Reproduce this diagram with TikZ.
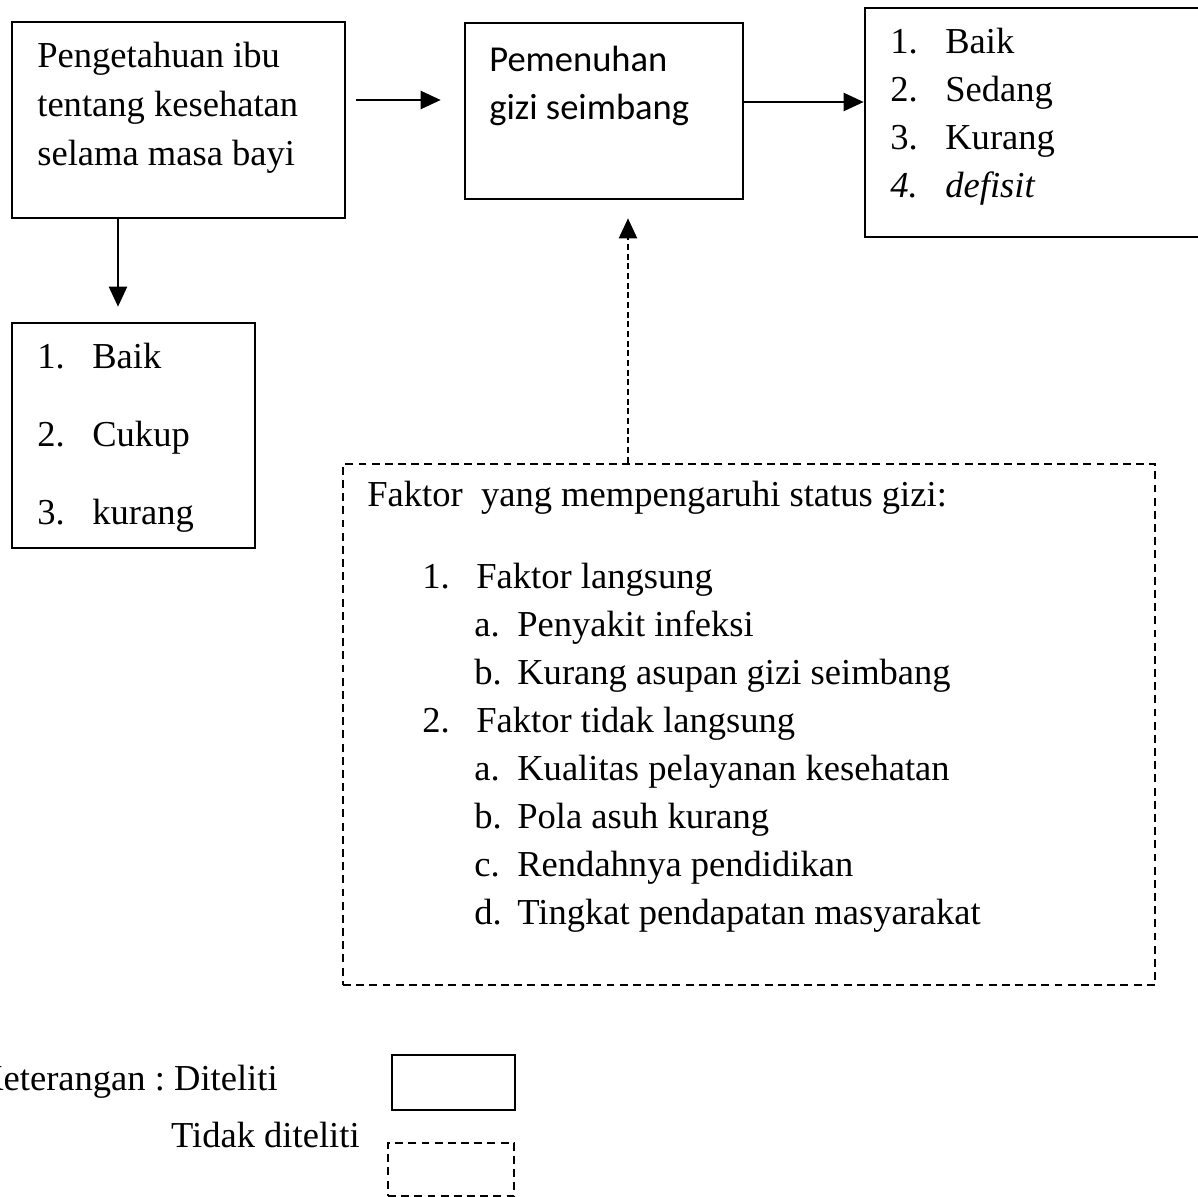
\documentclass[tikz,border=0pt]{standalone}
\usepackage{fontspec}
\setmainfont{Liberation Serif}
\newfontfamily\calibfont{Carlito}
\usepackage{tikz}
\usetikzlibrary{arrows.meta,positioning,fit,calc}
\frenchspacing
\newcommand{\bodyfont}{\fontsize{20.8}{25}\selectfont}
\tikzset{
  box/.style={draw, line width=1.5pt, inner sep=0pt},
  dbox/.style={box, dash pattern=on 4.5pt off 3pt},
  txt/.style={anchor=base west, inner sep=0pt, font=\bodyfont},
  arr/.style={-{Triangle[length=0.4cm,width=0.36cm]}, line width=1.3pt},
  darr/.style={arr, dash pattern=on 3.5pt off 2pt},
}

\begin{document}
\begin{tikzpicture}[x=0.02cm, y=-0.02cm]
  \useasboundingbox (0,0) rectangle (1198,1197);
  % boxes
  \node[box, fit={(12,22) (345,218)}] (boxA) {};
  \node[box, fit={(465,23) (743,199)}] (boxB) {};
  \node[box, fit={(865,8) (1205,237)}] (boxC) {};
  \node[box, fit={(12,323) (255,548)}] (boxD) {};
  \node[dbox, fit={(343,464) (1155,985)}] (boxE) {};
  % pengetahuan ibu
  \foreach \t [count=\i] in {Pengetahuan ibu, tentang kesehatan, selama masa bayi}
    \node[txt] (pA\i) at (37, 18+49*\i) {\t};
  % pemenuhan gizi
  \node[txt, font=\bodyfont\calibfont] (pB1) at (489,71) {Pemenuhan};
  \node[txt, font=\bodyfont\calibfont] (pB2) at (489,119) {gizi seimbang};
  % status gizi
  \foreach \n/\t [count=\i] in {1./Baik, 2./Sedang, 3./Kurang} {
    \node[txt] (cN\i) at (890, 5+48*\i) {\n};
    \node[txt] (cT\i) at (945, 5+48*\i) {\t};
  }
  \node[txt, font=\bodyfont\itshape] (cN4) at (890,197) {4.};
  \node[txt, font=\bodyfont\itshape] (cT4) at (945,197) {defisit};
  % kategori pengetahuan
  \foreach \n/\t [count=\i] in {1./Baik, 2./Cukup, 3./kurang} {
    \node[txt] (dN\i) at (37, 290+78*\i) {\n};
    \node[txt] (dT\i) at (92, 290+78*\i) {\t};
  }
  % faktor
  \node[txt] (eHead) at (367,506) {Faktor\ \ yang mempengaruhi status gizi:};
  \node[txt] (eN1) at (422,588) {1.};
  \node[txt] (eT1) at (476,588) {Faktor langsung};
  \foreach \n/\t [count=\i] in {a./Penyakit infeksi, b./Kurang asupan gizi seimbang} {
    \node[txt] (eaN\i) at (474, 588+48*\i) {\n};
    \node[txt] (eaT\i) at (517, 588+48*\i) {\t};
  }
  \node[txt] (eN2) at (422,732) {2.};
  \node[txt] (eT2) at (476,732) {Faktor tidak langsung};
  \foreach \n/\t [count=\i] in {a./Kualitas pelayanan kesehatan, b./Pola asuh kurang,
      c./Rendahnya pendidikan, d./Tingkat pendapatan masyarakat} {
    \node[txt] (ebN\i) at (474, 732+48*\i) {\n};
    \node[txt] (ebT\i) at (517, 732+48*\i) {\t};
  }
  % arrows
  \coordinate (ab) at (0,100);
  \coordinate (bc) at (0,102);
  \coordinate (ad) at (118,0);
  \coordinate (eb) at (628,0);
  \draw[arr, shorten <=0.2cm, shorten >=0.46cm] (boxA.east |- ab) -- (boxB.west |- ab);
  \draw[arr] (boxB.east |- bc) -- (boxC.west |- bc);
  \draw[arr, shorten >=0.3cm] (boxA.south -| ad) -- (boxD.north -| ad);
  \draw[darr, shorten >=0.36cm] (boxE.north -| eb) -- (boxB.south -| eb);
  % keterangan
  \node[txt, anchor=base east] (kDit) at (278,1090) {Keterangan : Diteliti};
  \node[txt, anchor=base east] (kTdk) at (360,1147) {Tidak diteliti};
  \node[box, fit={(392,1055) (515,1110)}] (kBox) {};
  \node[dbox, fit={(388,1143) (514,1196)}] (kDbox) {};
\end{tikzpicture}
\end{document}
